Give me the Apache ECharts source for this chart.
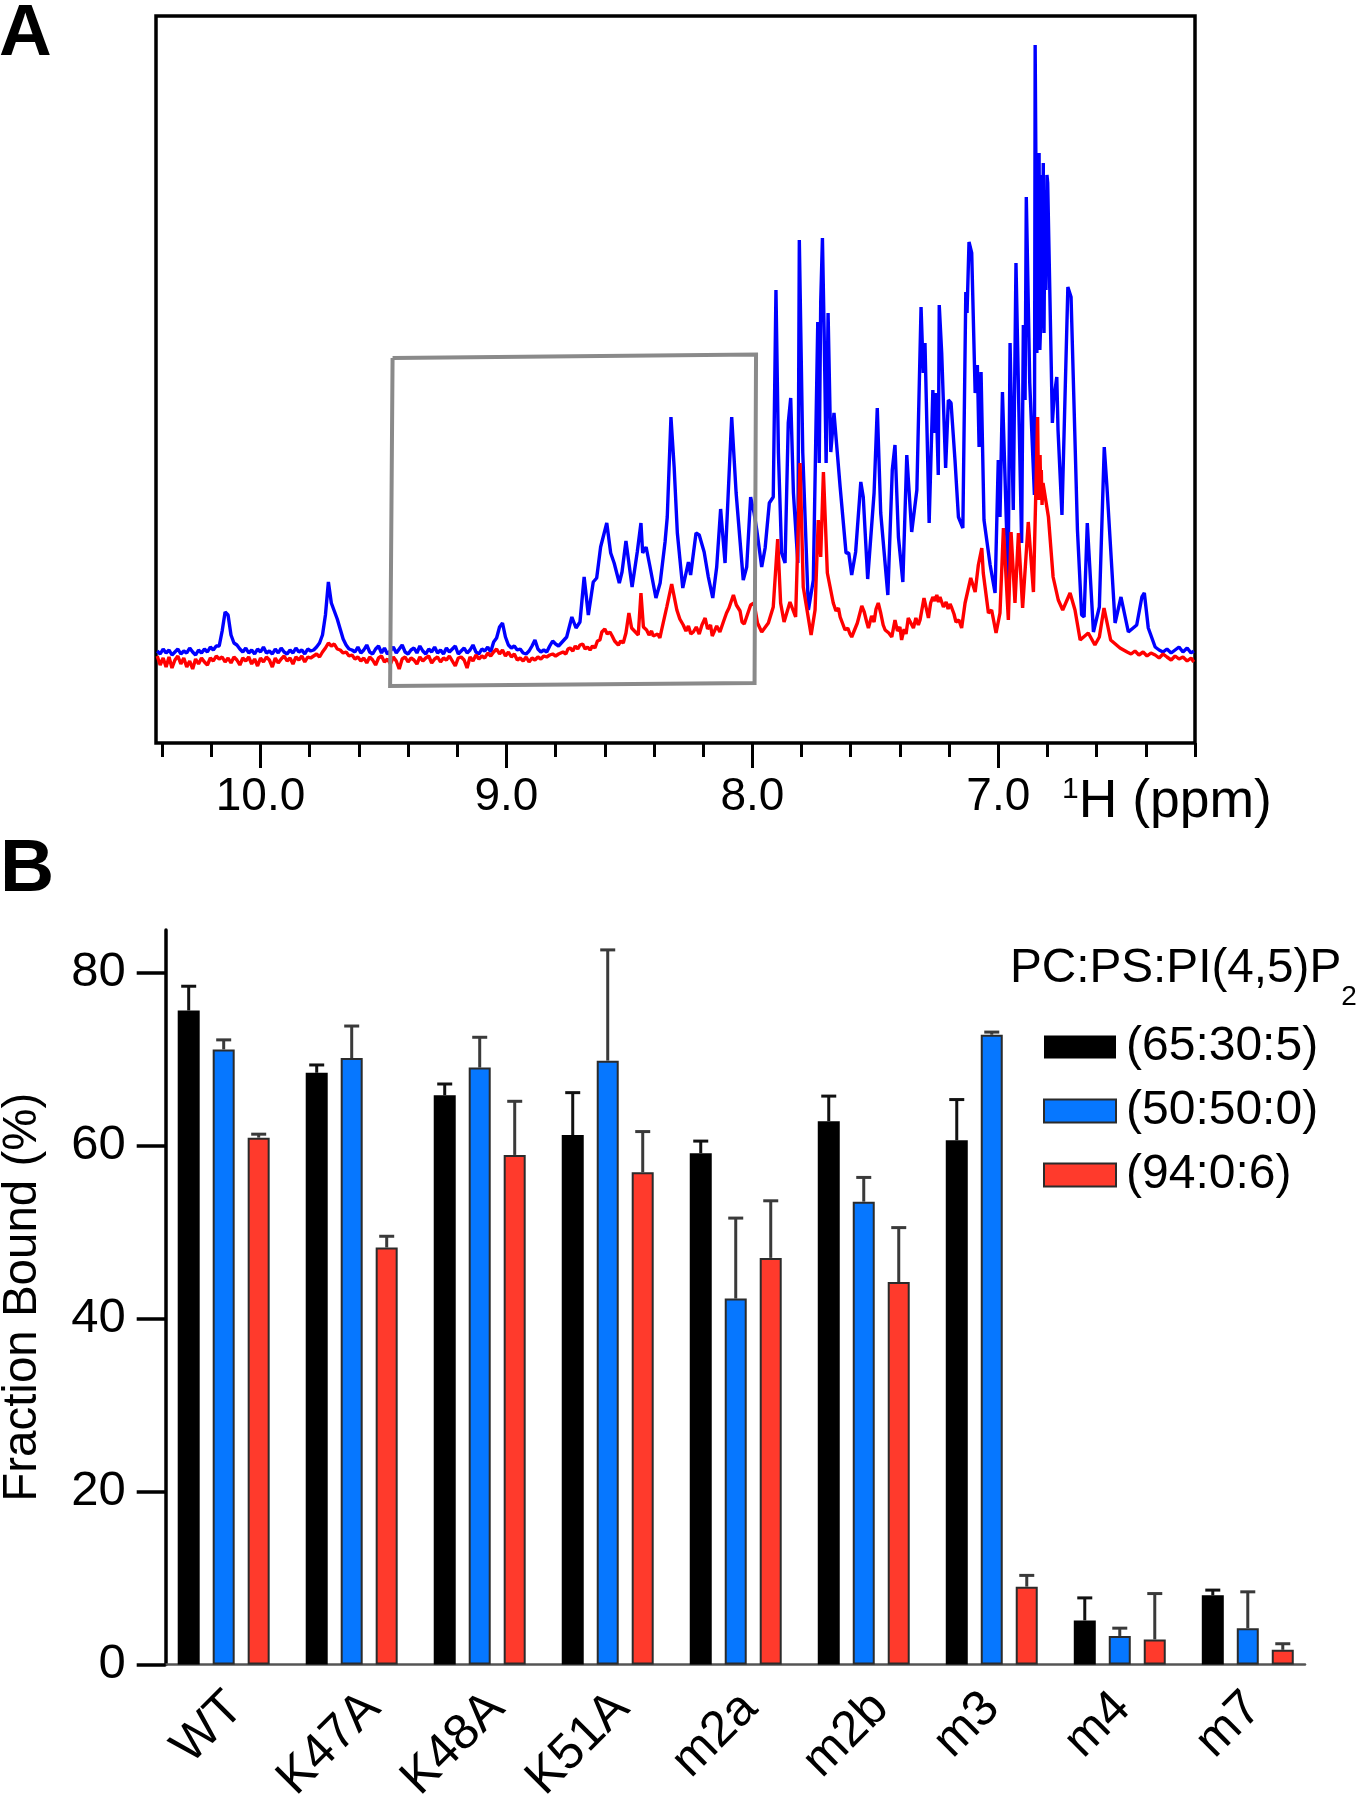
<!DOCTYPE html>
<html>
<head>
<meta charset="utf-8">
<script src="https://cdn.jsdelivr.net/npm/echarts@6/dist/echarts.min.js"></script>
<style>html,body{margin:0;padding:0;background:#fff}#c{width:1359px;height:1800px}</style>
</head>
<body>
<div id="c"></div>
<script>
const FONT = '"Liberation Sans", Arial, sans-serif';

// ---------- Panel A: 1H spectrum (ppm, arbitrary intensity) ----------
const baselineStart = 10.42, baselineStep = 0.012;
const blueBaseline = [4,1,6,2,5,0,3,6,1,4,2,7,3,0,5,2,6,
  3,8,5,9,9,24,43,40,20,12,10,
  6,3,7,2,5,1,6,3,8,2,4,1,6,2,7,3,1,5,2,7,3,5,1,6,4,
  5,8,12,20,40,73,52,44,36,26,16,10,6,5,3,
  8,2,5,10,3,1,6,9,2,7,1,4,8,2,6,10,3,1,5,7,2,9,4,1,6,3,8,2,5,1,7,3,6,9,1,4,7,2,5,10,3,1,6,4,8,3,
  13,17,28,32,18,10,7,9,5,6,2,1,4,9,15,6,3,5,3,9,14,11,9];
const redBaseline = [-1,-10,-3,-12,-2,-13,-5,-1,-9,-3,-12,-6,-14,-4,-9,-3,-7,
  -10,-3,-6,-1,-4,-2,-7,-3,-8,-2,-5,-10,-3,-6,-2,-9,-4,-11,-3,-7,-2,-5,-12,-3,-8,-4,-1,-6,-3,-9,-2,-5,-1,-7,-2,-3,
  -1,1,-2,3,7,12,9,11,6,5,2,3,-1,0,-4,
  -2,-6,-3,-8,-2,-5,-10,-3,-1,-7,-4,-9,-2,-6,-14,-4,-2,-7,-3,-5,-9,-2,-6,-3,-1,-8,-4,-2,-7,-3,-5,-1,-6,-11,-3,-2,-5,-13,-2,-6,0,-4,-1,-3,2,-1,
  3,6,1,5,-1,3,-2,1,-5,-3,-6,-2,-7,-3,-5,-2,-4,-1,-2,0,1,-1,1];
const bluePeaks = [[8.782,8],[8.755,18],[8.734,38],[8.717,27],[8.701,33],[8.684,78],[8.667,40],[8.647,73],[8.633,77],[8.617,108],
[8.592,132],[8.576,102],[8.562,92],[8.541,72],[8.530,83],[8.514,114],[8.489,68],[8.468,103],[8.453,132],[8.446,102],
[8.432,108],[8.416,88],[8.392,57],[8.375,72],[8.355,113],[8.346,138],[8.331,238],[8.318,188],[8.305,122],[8.283,67],
[8.260,93],[8.251,80],[8.229,122],[8.216,120],[8.196,103],[8.179,78],[8.161,57],[8.145,88],[8.129,146],[8.111,92],
[8.084,238],[8.066,162],[8.037,75],[8.023,88],[8.007,158],[7.993,142],[7.982,125],[7.962,88],[7.948,107],[7.931,152],
[7.915,158],[7.904,365],[7.894,202],[7.881,102],[7.867,92],[7.854,232],[7.844,257],[7.833,162],[7.815,92],[7.809,415],
[7.795,202],[7.772,45],[7.752,75],[7.734,333],[7.728,192],[7.722,353],[7.715,417],[7.708,322],[7.700,192],[7.692,342],
[7.681,203],[7.668,242],[7.643,168],[7.619,102],[7.608,102],[7.596,80],[7.580,103],[7.559,173],[7.549,158],[7.531,76],
[7.505,162],[7.492,247],[7.478,142],[7.449,60],[7.431,185],[7.420,210],[7.406,118],[7.388,73],[7.372,200],[7.352,123],
[7.331,165],[7.314,348],[7.305,282],[7.298,312],[7.281,132],[7.266,265],[7.260,222],[7.253,262],[7.244,180],[7.240,350],
[7.230,302],[7.214,187],[7.203,255],[7.192,252],[7.176,195],[7.162,138],[7.144,127],[7.132,363],[7.127,342],[7.119,413],
[7.108,402],[7.094,262],[7.085,290],[7.078,208],[7.070,283],[7.058,135],[7.033,90],[7.013,62],[7.000,195],[6.993,138],
[6.983,263],[6.960,75],[6.952,312],[6.939,145],[6.928,392],[6.915,230],[6.905,112],[6.898,330],[6.891,255],[6.886,458],
[6.872,272],[6.853,160],[6.850,610],[6.846,455],[6.843,302],[6.840,502],[6.836,375],[6.834,502],[6.831,305],[6.827,335],
[6.824,480],[6.821,355],[6.817,492],[6.814,322],[6.810,465],[6.806,365],[6.802,480],[6.799,472],[6.780,232],[6.773,258],
[6.762,278],[6.757,225],[6.741,140],[6.717,368],[6.704,358],[6.678,125],[6.661,40],[6.651,38],[6.638,132],[6.613,23],
[6.589,48],[6.569,208],[6.558,168],[6.525,32],[6.501,58],[6.471,23],[6.437,30],[6.416,58],[6.406,62],[6.390,27],
[6.362,8],[6.346,5],[6.330,3],[6.314,6],[6.297,2],[6.281,5],[6.265,8],[6.249,3],[6.232,7],[6.216,2],[6.205,4]];
const redPeaks = [[8.782,-1],[8.741,7],[8.701,10],[8.660,5],[8.612,23],[8.579,23],[8.545,10],[8.514,22],[8.502,42],[8.491,27],
[8.464,20],[8.453,62],[8.443,28],[8.396,18],[8.369,25],[8.348,48],[8.328,71],[8.307,45],[8.281,30],[8.240,23],
[8.192,37],[8.156,20],[8.118,33],[8.077,60],[8.033,31],[8.007,50],[7.993,52],[7.979,32],[7.962,23],[7.935,32],
[7.915,48],[7.897,116],[7.885,52],[7.871,33],[7.847,53],[7.824,38],[7.806,192],[7.793,68],[7.761,20],[7.745,45],
[7.732,135],[7.722,98],[7.711,183],[7.695,82],[7.671,52],[7.643,38],[7.623,25],[7.596,18],[7.573,32],[7.555,49],
[7.528,27],[7.488,52],[7.460,25],[7.433,18],[7.420,35],[7.393,15],[7.366,37],[7.345,27],[7.318,35],[7.302,57],
[7.284,37],[7.266,58],[7.237,58],[7.223,48],[7.189,47],[7.172,33],[7.149,27],[7.135,52],[7.112,77],[7.094,63],
[7.081,90],[7.067,107],[7.061,82],[7.040,42],[7.027,45],[7.009,22],[6.993,42],[6.979,127],[6.959,35],[6.948,123],
[6.932,52],[6.918,122],[6.901,47],[6.878,133],[6.857,63],[6.840,238],[6.836,155],[6.833,185],[6.830,200],[6.827,155],
[6.825,185],[6.822,150],[6.818,172],[6.810,172],[6.796,138],[6.777,78],[6.756,55],[6.738,45],[6.708,62],[6.688,45],
[6.667,15],[6.634,22],[6.607,10],[6.589,18],[6.570,47],[6.543,15],[6.505,7],[6.476,3],[6.460,1],[6.444,4],
[6.428,0],[6.411,3],[6.395,-1],[6.379,2],[6.362,0],[6.346,-3],[6.330,1],[6.314,-2],[6.297,-5],[6.281,-1],
[6.265,-4],[6.249,-2],[6.232,-6],[6.216,-3],[6.205,-7]];
const redRipple = [[8.770,3],[8.758,1],[8.750,6],[8.730,4],[8.720,9],[8.710,6],[8.690,11],[8.680,6],[8.670,8],
[8.650,9],[8.640,7],[8.630,14],[8.620,15],[8.600,26],[8.590,21],[8.570,19],[8.560,14],[8.552,15],[8.535,14],[8.525,12],
[8.430,25],[8.420,20],[8.410,24],[8.403,19],[8.385,21],[8.376,17],[8.295,36],[8.270,24],[8.260,29],[8.250,21],
[8.228,28],[8.216,21],[8.205,30],[8.182,26],[8.170,30],[8.163,19],[8.145,29],[8.132,23],[8.105,42],[8.095,47],
[8.065,50],[8.050,44],[8.042,33],[7.660,44],[7.650,47],[7.612,27],[7.603,21],[7.545,43],[7.535,33],[7.515,39],
[7.505,33],[7.497,46],[7.478,42],[7.468,30],[7.445,22],[7.410,24],[7.400,28],[7.383,26],[7.375,21],[7.335,37],
[7.325,30],[7.275,52],[7.258,54],[7.250,60],[7.243,53],[7.212,53],[7.204,46],[7.196,51],[7.180,41],[7.160,35]];
const highlightBox = [[9.463,297],[7.985,300.5],[7.991,-28],[9.473,-31],[9.463,297]];
const ppmMajorTicks = [10,9,8,7];
const ppmMinorTicks = [10.4,10.2,10,9.8,9.6,9.4,9.2,9,8.8,8.6,8.4,8.2,8,7.8,7.6,7.4,7.2,7,6.8,6.6,6.4,6.2];

// ---------- Panel B: fraction bound ----------
const categories = ['WT','K47A','K48A','K51A','m2a','m2b','m3','m4','m7'];
const mixNames = ['(65:30:5)','(50:50:0)','(94:0:6)'];
const blackMeans = [75.6,68.4,65.8,61.2,59.1,62.8,60.6,5.1,8.0];
const blackTops  = [78.4,69.3,67.1,66.1,60.5,65.7,65.3,7.7,8.6];
const blueMeans  = [71.1,70.1,69.0,69.8,42.3,53.5,72.8,3.3,4.2];
const blueTops   = [72.2,73.8,72.5,82.6,51.6,56.3,73.1,4.2,8.4];
const redMeans   = [60.9,48.2,58.9,56.9,47.0,44.2,9.0,2.9,1.7];
const redTops    = [61.3,49.5,65.1,61.6,53.6,50.5,10.3,8.2,2.4];
const yTicksInterval = 20;

const COLORS = ['#000000','#0677ff','#ff3a2c'];

// ---------- build ----------
const fullSpectrum = (base, peaks) =>
  base.map((v,i)=>[+(baselineStart - i*baselineStep).toFixed(3), v])
      .concat(peaks.slice().sort((a,b)=>b[0]-a[0]));

const groupAt = 0.453;
const labelShifts = [0.094,0.164,0.133,0.109,0.109,0.133,0,0.023,0.047];
const pos = i => i + groupAt;
const labelAt = categories.map((c,i)=>pos(i)+labelShifts[i]);

function barSeries(idx, means){
  return {
    type:'bar', name:mixNames[idx], xAxisIndex:2, yAxisIndex:1,
    data:means.map((v,i)=>[pos(i),v]),
    barWidth:22, barGap:'59%', z:3,
    itemStyle:{color:COLORS[idx], borderColor: idx===0?'#000':'#2b2b2b', borderWidth: idx===0?0:2}
  };
}
function errSeries(idx, means, tops){
  const slot = (idx-1)*35;
  return {
    type:'custom', xAxisIndex:2, yAxisIndex:1, z:2, silent:true, clip:false,
    encode:{x:0,y:[1,2]},
    data:means.map((v,i)=>[pos(i),v,tops[i]]),
    renderItem:(p,api)=>{
      const a = api.coord([api.value(0),api.value(1)]);
      const b = api.coord([api.value(0),api.value(2)]);
      const x = a[0]+slot;
      const st = {stroke: idx===0?'#111':'#3a3a3a', lineWidth:3, fill:null};
      return {type:'group',children:[
        {type:'line',shape:{x1:x,y1:a[1],x2:x,y2:b[1]},style:st},
        {type:'line',shape:{x1:x-7.5,y1:b[1],x2:x+7.5,y2:b[1]},style:st}
      ]};
    }
  };
}

const chart = echarts.init(document.getElementById('c'),null,{renderer:'canvas'});
chart.setOption({
  animation:false,
  backgroundColor:'#fff',
  textStyle:{fontFamily:FONT,color:'#000'},
  title:[
    {text:'A',left:-1,top:-2,textStyle:{fontFamily:FONT,fontSize:73,fontWeight:'bold',color:'#000'},padding:0},
    {text:'B',left:0,top:833,textStyle:{fontFamily:FONT,fontSize:75,fontWeight:'bold',color:'#000'},padding:0}
  ],
  grid:[
    {left:156,top:16,width:1039,height:727,show:true,borderColor:'#000',borderWidth:3.5,backgroundColor:'transparent',outerBoundsMode:'none'},
    {left:165.7,top:930,width:1139.3,height:734.5,outerBoundsMode:'none'}
  ],
  xAxis:[
    {gridIndex:0,type:'value',inverse:true,min:6.2,max:10.425,position:'bottom',splitLine:{show:false},
     axisLine:{show:false,onZero:false},
     axisTick:{show:true,length:25,lineStyle:{color:'#000',width:3},customValues:ppmMajorTicks},
     axisLabel:{show:true,margin:31,fontFamily:FONT,fontSize:46,color:'#000',customValues:ppmMajorTicks,formatter:v=>v.toFixed(1)}},
    {gridIndex:0,type:'value',inverse:true,min:6.2,max:10.425,position:'bottom',splitLine:{show:false},
     axisLine:{show:false,onZero:false},
     axisTick:{show:true,length:14,lineStyle:{color:'#000',width:3},customValues:ppmMinorTicks},
     axisLabel:{show:false}},
    {gridIndex:1,type:'value',min:0,max:8.9,splitLine:{show:false},
     axisLine:{show:true,onZero:false,lineStyle:{color:'#555',width:2.5}},
     axisTick:{show:false},
     axisLabel:{show:true,rotate:45,margin:36,fontFamily:FONT,fontSize:50,color:'#000',
       customValues:labelAt,
       formatter:v=>categories[labelAt.findIndex(p=>Math.abs(p-v)<1e-6)]}}
  ],
  yAxis:[
    {gridIndex:0,type:'value',min:-88,max:639,show:false,splitLine:{show:false}},
    {gridIndex:1,type:'value',min:0,max:84.9,interval:yTicksInterval,splitLine:{show:false},
     axisLine:{show:true,lineStyle:{color:'#000',width:3.5}},
     axisTick:{show:true,length:29,lineStyle:{color:'#000',width:3.5}},
     axisLabel:{margin:40,fontFamily:FONT,fontSize:49,color:'#000'},
     name:'Fraction Bound (%)',nameLocation:'middle',nameGap:119,
     nameTextStyle:{fontFamily:FONT,fontSize:47.5,color:'#000'}}
  ],
  legend:{
    orient:'vertical',left:1043,top:1022,padding:0,itemWidth:72,itemHeight:23,itemGap:14,icon:'rect',
    selectedMode:false,data:mixNames,
    textStyle:{fontFamily:FONT,fontSize:48,color:'#000',lineHeight:50,padding:[0,0,0,5]}
  },
  graphic:[
    {type:'text',left:1062,top:775,style:{
      text:'{s|1}{n|H (ppm)}',fill:'#000',font:'53px '+FONT,
      rich:{s:{fontFamily:FONT,fontSize:30,verticalAlign:'top',lineHeight:54,fill:'#000'},
            n:{fontFamily:FONT,fontSize:53.5,lineHeight:54,fill:'#000'}}}},
    {type:'text',left:1010,top:945,style:{
      text:'{n|PC:PS:PI(4,5)P}{s|2}',fill:'#000',font:'47px '+FONT,
      rich:{n:{fontFamily:FONT,fontSize:47.7,lineHeight:66,verticalAlign:'top',fill:'#000'},
            s:{fontFamily:FONT,fontSize:28,lineHeight:66,verticalAlign:'bottom',fill:'#000'}}}}
  ],
  series:[
    {type:'line',name:'Blue spectrum',xAxisIndex:0,yAxisIndex:0,showSymbol:false,symbol:'none',
     lineStyle:{color:'#0000ff',width:3.4},data:fullSpectrum(blueBaseline,bluePeaks),z:2,clip:true},
    {type:'line',name:'Red spectrum',xAxisIndex:0,yAxisIndex:0,showSymbol:false,symbol:'none',
     lineStyle:{color:'#ff0000',width:3.4},data:fullSpectrum(redBaseline,redPeaks.concat(redRipple)),z:3,clip:true},
    {type:'line',name:'Box',xAxisIndex:0,yAxisIndex:0,showSymbol:false,symbol:'none',
     lineStyle:{color:'#8a8a8a',width:4,join:'miter'},data:highlightBox,z:4},
    errSeries(0,blackMeans,blackTops),
    errSeries(1,blueMeans,blueTops),
    errSeries(2,redMeans,redTops),
    barSeries(0,blackMeans),
    barSeries(1,blueMeans),
    barSeries(2,redMeans)
  ]
});
</script>
</body>
</html>
